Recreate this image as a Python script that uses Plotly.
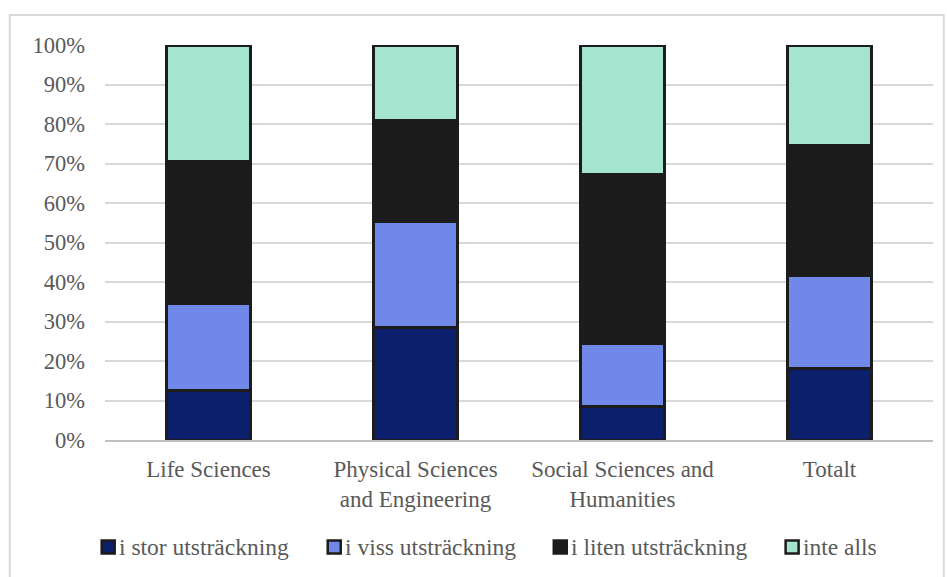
import plotly.graph_objects as go

categories = ["Life Sciences", "Physical Sciences<br>and Engineering",
              "Social Sciences and<br>Humanities", "Totalt"]
series_names = ["i stor utsträckning", "i viss utsträckning",
                "i liten utsträckning", "inte alls"]
stor = [12.5, 28.4, 8.6, 18.2]
viss = [22.1, 27.0, 15.9, 23.4]
liten = [36.0, 25.6, 42.6, 33.0]
inte = [29.4, 19.0, 32.9, 25.4]
colors = ["#0c1f6c", "#7088e8", "#1c1c1c", "#a5e4cf"]

# horizontal legend slots (paper x of each swatch)
legend_x = [-0.004, 0.269, 0.542, 0.822]

font_family = "'Times New Roman', 'Liberation Serif', 'DejaVu Serif', serif"
text_color = "#595959"

fig = go.Figure()
for name, vals, col in zip(series_names, [stor, viss, liten, inte], colors):
    fig.add_trace(go.Bar(
        x=categories, y=vals, name=name, showlegend=False,
        marker=dict(color=col, line=dict(color="#1c1c1c", width=3)),
    ))

shapes = [dict(type="rect", xref="paper", yref="paper",
               x0=-0.115, x1=1.013, y0=-0.5, y1=1.076,
               line=dict(color="#d9d9d9", width=2), fillcolor="rgba(0,0,0,0)",
               layer="below")]
annotations = []
sw = 13 / 828  # swatch width in paper units
sh = 13 / 395
ly = -0.271
for name, col, lx in zip(series_names, colors, legend_x):
    shapes.append(dict(type="rect", xref="paper", yref="paper",
                       x0=lx, x1=lx + sw, y0=ly - sh / 2, y1=ly + sh / 2,
                       fillcolor=col, line=dict(color="#1c1c1c", width=2.5)))
    annotations.append(dict(xref="paper", yref="paper", x=lx + sw + 0.003, y=ly,
                            xanchor="left", yanchor="middle", showarrow=False,
                            text=name, font=dict(family=font_family, size=23.5,
                                                 color=text_color)))

fig.update_layout(
    barmode="stack",
    bargap=0.59,
    width=947, height=577,
    margin=dict(l=105, r=14, t=45, b=137),
    paper_bgcolor="white", plot_bgcolor="white",
    font=dict(family=font_family, size=22, color=text_color),
    showlegend=False,
    xaxis=dict(showline=True, linecolor="#bfbfbf", linewidth=2, ticks="",
               ticklabelstandoff=7,
               tickfont=dict(family=font_family, size=23, color=text_color)),
    yaxis=dict(range=[0, 100], dtick=10, ticksuffix="%", showgrid=True,
               gridcolor="#d9d9d9", gridwidth=2, zeroline=False, ticks="",
               ticklabelstandoff=19,
               tickfont=dict(family=font_family, size=22.5, color=text_color)),
    shapes=shapes,
    annotations=annotations,
)

fig.write_html("out.html")
